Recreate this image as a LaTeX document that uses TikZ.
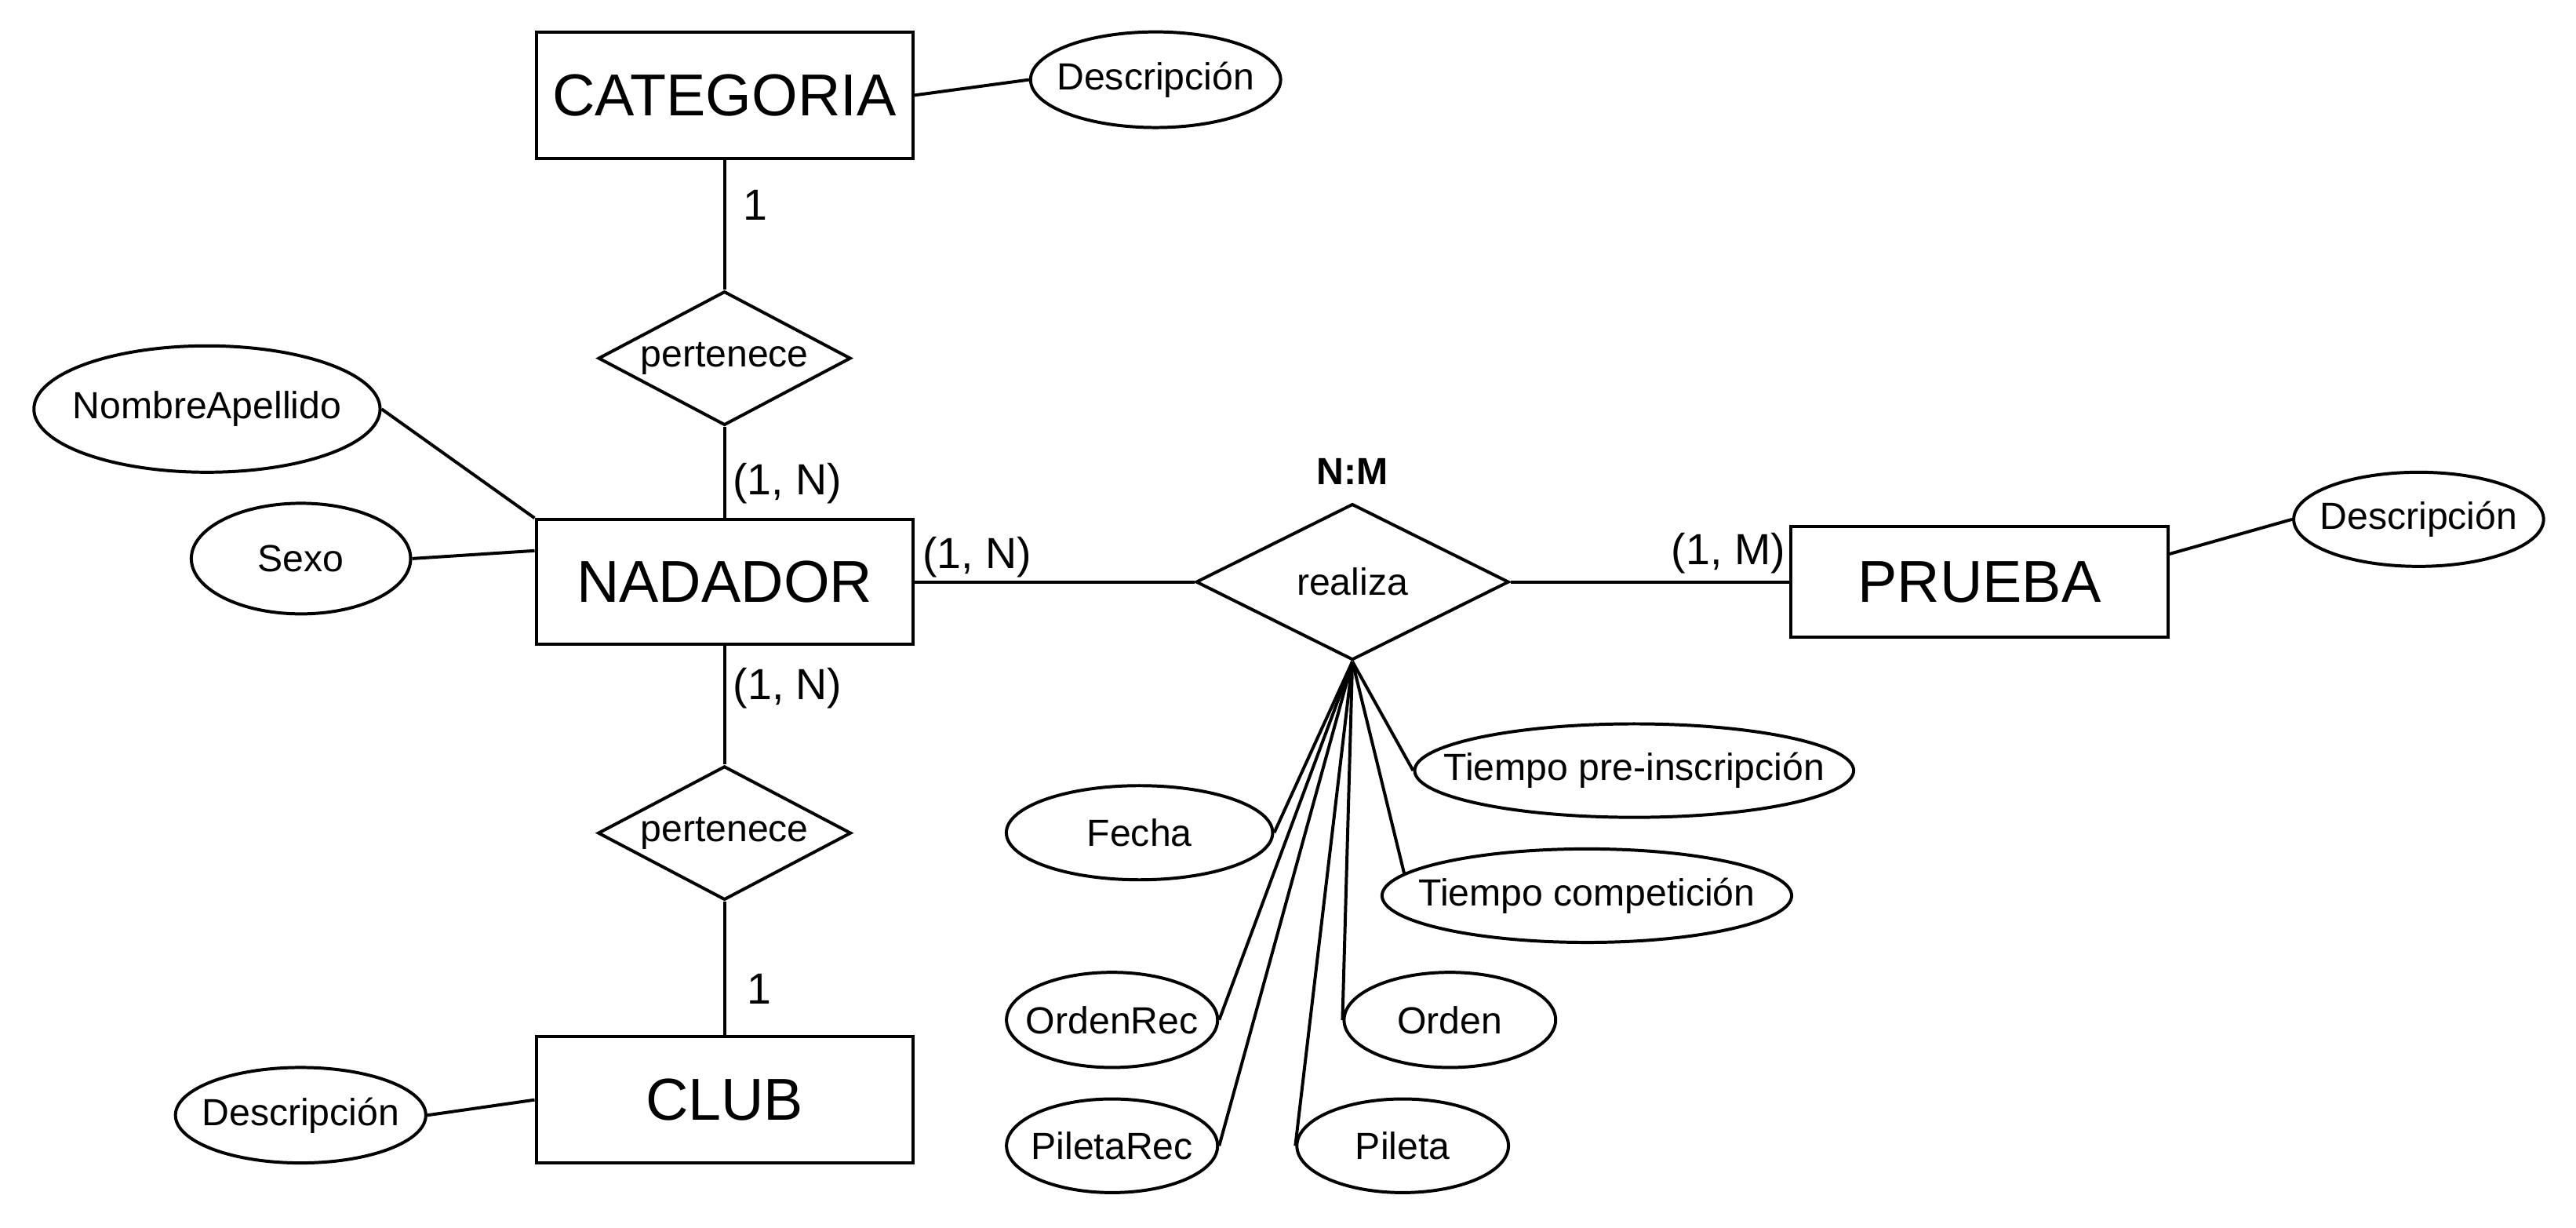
\documentclass[tikz,border=0pt]{standalone}
\usepackage{fontspec}
\setmainfont{Liberation Sans}
\usetikzlibrary{shapes.geometric}
\newcommand{\zw}[1]{\makebox[0pt]{#1}}
\begin{document}
\begin{tikzpicture}[x=1pt,y=-1pt, line width=1.9pt,
 entity/.style={draw, rectangle, inner sep=0pt, minimum width=229.3pt, font=\fontsize{36}{40}\selectfont},
 attr/.style={draw, ellipse, inner sep=0pt, font=\fontsize{23}{26}\selectfont},
 rel/.style={draw, diamond, inner sep=0pt, font=\fontsize{23}{26}\selectfont},
 card/.style={inner sep=0pt, font=\fontsize{26.5}{30}\selectfont}]
\useasboundingbox[fill=white] (0,0) rectangle (1568,747);

% entities and relations
\node[entity, minimum height=77.1pt] (cat) at (441,57.95) {CATEGORIA};
\node[attr, minimum width=152.2pt, minimum height=58.2pt] (dcat) at (703.4,48.5) {\zw{Descripción}};
\node[rel, minimum width=153.7pt, minimum height=81.5pt] (per1) at (441,218) {\zw{pertenece}};
\node[entity, minimum height=75.8pt] (nad) at (441,354.1) {NADADOR};
\node[attr, minimum width=210.7pt, minimum height=76.9pt] (nom) at (126,248.9) {\zw{NombreApellido}};
\node[attr, minimum width=133.5pt, minimum height=67.3pt] (sexo) at (183.2,339.9) {\zw{Sexo}};
\node[rel, minimum width=190.5pt, minimum height=95pt] (rea) at (823.2,354.1) {\zw{realiza}};
\node[entity, minimum height=67pt] (pru) at (1204.9,354.1) {PRUEBA};
\node[attr, minimum width=152.1pt, minimum height=57.3pt] (dpru) at (1472.2,316) {\zw{Descripción}};
\node[rel, minimum width=154.1pt, minimum height=81.4pt] (per2) at (441,506.9) {\zw{pertenece}};
\node[entity, minimum height=76.7pt] (club) at (441,669.25) {CLUB};
\node[attr, minimum width=152.4pt, minimum height=58.1pt] (dclub) at (183,678.6) {\zw{Descripción}};

% attributes of realiza
\node[attr, minimum width=267.2pt, minimum height=56.9pt] (tpre) at (994.7,468.9) {\zw{Tiempo pre-inscripción}};
\node[attr, minimum width=162.1pt, minimum height=57.3pt] (fecha) at (693.6,506.7) {\zw{Fecha}};
\node[attr, minimum width=249.3pt, minimum height=56.9pt] (tcomp) at (965.9,545) {\zw{Tiempo competición}};
\node[attr, minimum width=128.5pt, minimum height=57.9pt] (orec) at (676.9,620.6) {\zw{OrdenRec}};
\node[attr, minimum width=128.8pt, minimum height=57.9pt] (orden) at (882.5,620.6) {\zw{Orden}};
\node[attr, minimum width=128.5pt, minimum height=57pt] (prec) at (676.9,697.2) {\zw{PiletaRec}};
\node[attr, minimum width=128.8pt, minimum height=57pt] (pileta) at (853.8,697.2) {\zw{Pileta}};

% cardinality labels
\node[card] (c1) at (460,125) {1};
\node[card] (c2) at (479.3,294.4) {(1, N)};
\node[card] (c3) at (594.7,339) {(1, N)};
\node[card] (c4) at (479.4,418.6) {(1, N)};
\node[card] (c5) at (462,601.8) {1};
\node[card] (c6) at (1052,336.7) {(1, M)};
\node[inner sep=0pt, font=\bfseries\fontsize{23}{26}\selectfont] (nm) at (823.2,287) {N:M};

% connectors
\draw (cat.east) -- (dcat.west);
\draw (cat.south) -- (per1.north);
\draw (per1.south) -- (nad.north);
\draw (nom.east) -- (nad.north west);
\draw (sexo.east) -- ([yshift=19pt]nad.west);
\draw (nad.east) -- (rea.west);
\draw (rea.east) -- (pru.west);
\draw ([yshift=17pt]pru.east) -- (dpru.west);
\draw (nad.south) -- (per2.north);
\draw (per2.south) -- (club.north);
\draw (dclub.east) -- (club.west);

\draw (rea.south) -- (tpre.west);
\draw (rea.south) -- (fecha.east);
\draw (rea.south) -- (tcomp.173);
\draw (rea.south) -- (orec.east);
\draw (rea.south) -- (orden.west);
\draw (rea.south) -- (prec.east);
\draw (rea.south) -- (pileta.west);
\end{tikzpicture}
\end{document}
